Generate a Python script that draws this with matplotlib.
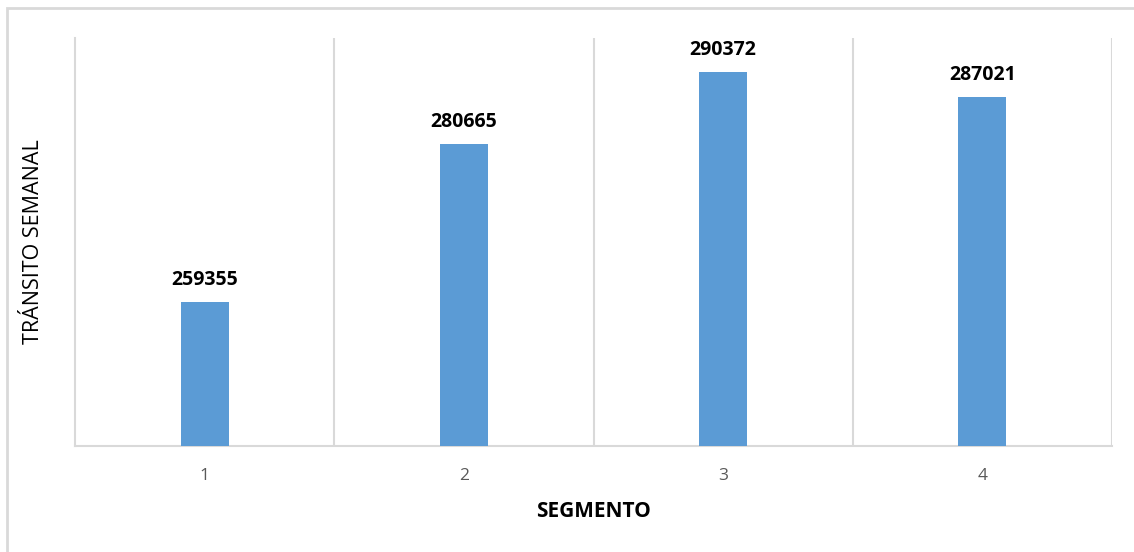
import matplotlib
matplotlib.use("Agg")
import matplotlib.pyplot as plt
from matplotlib.patches import Rectangle

segments = ["1", "2", "3", "4"]
traffic = [259355, 280665, 290372, 287021]

y_min, y_max = 240000, 295000
bar_color = "#5B9BD5"
grid_color = "#D9D9D9"

W, H = 1134, 552
fig = plt.figure(figsize=(W / 100, H / 100), dpi=100)
fig.patch.set_facecolor("white")

# outer chart frame (left and top edges visible)
fig.add_artist(Rectangle((7 / W, -0.1), 1.2, 1.1 - 8 / H,
                         transform=fig.transFigure, fill=False,
                         edgecolor="#D9D9D9", linewidth=2))

left, right, top, bottom = 75, 1112, 38, 446
ax = fig.add_axes([left / W, 1 - bottom / H, (right - left) / W, (bottom - top) / H])

x = list(range(len(segments)))
ax.bar(x, [v - y_min for v in traffic], bottom=y_min, width=0.185,
       color=bar_color, zorder=3)

ax.set_xlim(-0.5, len(segments) - 0.5)
ax.set_ylim(y_min, y_max)

# vertical separators between categories
for b in [i + 0.5 for i in range(len(segments) - 1)] + [len(segments) - 0.5]:
    ax.axvline(b, color=grid_color, linewidth=1.5, zorder=1)

for s in ["top", "right"]:
    ax.spines[s].set_visible(False)
ax.spines["left"].set_color(grid_color)
ax.spines["left"].set_linewidth(1.5)
ax.spines["bottom"].set_color(grid_color)
ax.spines["bottom"].set_linewidth(1.5)

ax.set_yticks([])
ax.set_xticks(x)
ax.set_xticklabels(segments, fontsize=12.5, color="#595959", family="Open Sans")
ax.tick_params(axis="x", length=0, pad=16)

for xi, v in zip(x, traffic):
    ax.annotate(f"{v}", (xi, v), xytext=(0, 9), textcoords="offset points",
                ha="center", va="bottom", fontsize=14, fontweight="bold",
                family="Open Sans", color="black")

ax.set_xlabel("SEGMENTO", fontsize=15, fontweight="bold", family="Open Sans",
              labelpad=12)
ax.set_ylabel("TRÁNSITO SEMANAL", fontsize=15.5, family="Open Sans",
              labelpad=22)

fig.savefig("out.png", dpi=100, facecolor="white")
